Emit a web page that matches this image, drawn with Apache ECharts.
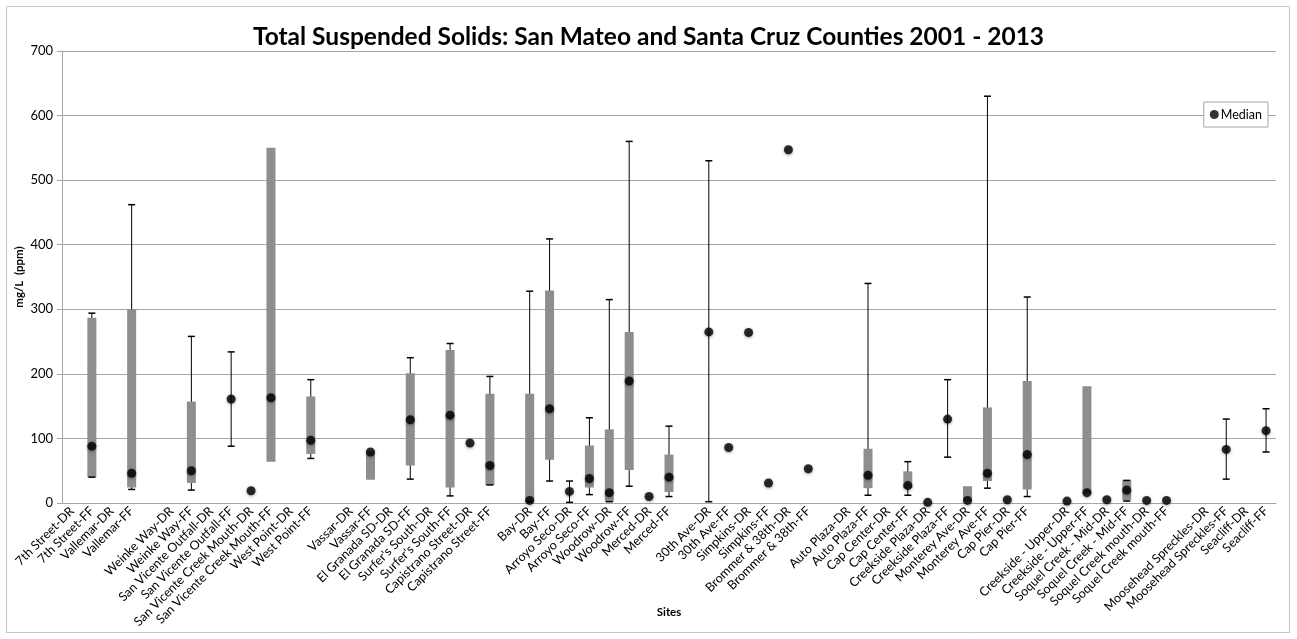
<!DOCTYPE html>
<html>
<head>
<meta charset="utf-8">
<script src="https://cdn.jsdelivr.net/npm/echarts@6/dist/echarts.min.js"></script>
<style>
  html, body { margin: 0; padding: 0; background: #fff; }
  #chart { width: 1297px; height: 639px; }
</style>
</head>
<body>
<div id="chart"></div>
<script>
// sites (blank entries are the gaps between groups)
const sites = [
  '7th Street-DR', '7th Street-FF', 'Vallemar-DR', 'Vallemar-FF', '',
  'Weinke Way-DR', 'Weinke Way-FF', 'San Vicente Outfall-DR', 'San Vicente Outfall-FF',
  'San Vicente Creek Mouth-DR', 'San Vicente Creek Mouth-FF', 'West Point-DR', 'West Point-FF', '',
  'Vassar-DR', 'Vassar-FF', 'El Granada SD-DR', 'El Granada SD-FF', "Surfer's South-DR",
  "Surfer's South-FF", 'Capistrano Street-DR', 'Capistrano Street-FF', '',
  'Bay-DR', 'Bay-FF', 'Arroyo Seco-DR', 'Arroyo Seco-FF', 'Woodrow-DR', 'Woodrow-FF',
  'Merced-DR', 'Merced-FF', '',
  '30th Ave-DR', '30th Ave-FF', 'Simpkins-DR', 'Simpkins-FF', 'Brommer & 38th-DR', 'Brommer & 38th-FF', '',
  'Auto Plaza-DR', 'Auto Plaza-FF', 'Cap Center-DR', 'Cap Center-FF', 'Creekside Plaza-DR',
  'Creekside Plaza-FF', 'Monterey Ave-DR', 'Monterey Ave-FF', 'Cap Pier-DR', 'Cap Pier-FF', '',
  'Creekside - Upper-DR', 'Creekside - Upper-FF', 'Soquel Creek - Mid-DR', 'Soquel Creek - Mid-FF',
  'Soquel Creek mouth-DR', 'Soquel Creek mouth-FF', '',
  'Moosehead Spreckles-DR', 'Moosehead Spreckles-FF', 'Seacliff-DR', 'Seacliff-FF'
];

// median values
const median = [
  null, 88, null, 46, null,
  null, 50, null, 161, 19, 163, null, 97, null,
  null, 79, null, 129, null, 136, 93, 58, null,
  4, 146, 18, 38, 16, 189, 10, 40, null,
  265, 86, 264, 31, 547, 53, null,
  null, 43, null, 27, 1, 130, 4, 46, 5, 75, null,
  3, 16, 5, 20, 4, 4, null,
  null, 83, null, 112
];

// grey box: lower and upper quartile
const boxLow = [
  null, 40, null, 24, null,
  null, 31, null, null, null, 64, null, 76, null,
  null, 36, null, 58, null, 24, null, 28, null,
  2, 67, null, 24, 2, 51, null, 17, null,
  null, null, null, null, null, null, null,
  null, 23, null, 23, null, null, 2, 34, null, 21, null,
  null, 15, null, 4, null, null, null,
  null, null, null, null
];
const boxHigh = [
  null, 287, null, 300, null,
  null, 157, null, null, null, 550, null, 165, null,
  null, 80, null, 201, null, 237, null, 169, null,
  169, 329, null, 89, 114, 265, null, 75, null,
  null, null, null, null, null, null, null,
  null, 84, null, 49, null, null, 26, 148, null, 189, null,
  null, 181, null, 35, null, null, null,
  null, null, null, null
];

// whiskers: min and max
const whiskLow = [
  null, 40, null, 21, null,
  null, 20, null, 88, null, null, null, 69, null,
  null, null, null, 37, null, 11, null, 28, null,
  2, 34, 1, 13, 2, 26, null, 10, null,
  2, null, null, null, null, null, null,
  null, 12, null, 12, null, 71, null, 23, null, 10, null,
  null, null, null, 3, null, null, null,
  null, 37, null, 79
];
const whiskHigh = [
  null, 294, null, 462, null,
  null, 258, null, 234, null, null, null, 191, null,
  null, null, null, 225, null, 247, null, 196, null,
  328, 409, 34, 132, 315, 560, null, 119, null,
  530, null, null, null, null, null, null,
  null, 340, null, 64, null, 191, null, 630, null, 319, null,
  null, null, null, 35, null, null, null,
  null, 130, null, 146
];

const font = 'Lato, "Open Sans", sans-serif';
const chart = echarts.init(document.getElementById('chart'));

const renderBox = (params, api) => {
  const i = api.value(0);
  const children = [];
  const capW = 7;
  if (whiskLow[i] != null && whiskHigh[i] != null) {
    const lo = api.coord([i, whiskLow[i]]);
    const hi = api.coord([i, whiskHigh[i]]);
    children.push({
      type: 'line', z2: 1,
      shape: { x1: lo[0], y1: lo[1], x2: hi[0], y2: hi[1] },
      style: { stroke: '#000', lineWidth: 1 }
    });
  }
  if (boxLow[i] != null && boxHigh[i] != null) {
    const lo = api.coord([i, boxLow[i]]);
    const hi = api.coord([i, boxHigh[i]]);
    children.push({
      type: 'rect', z2: 2,
      shape: { x: lo[0] - 4.5, y: hi[1], width: 9, height: lo[1] - hi[1] },
      style: { fill: '#8e8e8e' }
    });
  }
  if (whiskLow[i] != null && whiskHigh[i] != null) {
    [whiskLow[i], whiskHigh[i]].forEach(v => {
      const p = api.coord([i, v]);
      children.push({
        type: 'line', z2: 3,
        shape: { x1: p[0] - capW / 2, y1: p[1], x2: p[0] + capW / 2, y2: p[1] },
        style: { stroke: '#000', lineWidth: 1.5 }
      });
    });
  }
  return { type: 'group', children };
};

chart.setOption({
  animation: false,
  backgroundColor: '#fff',
  textStyle: { fontFamily: font },
  graphic: [{
    type: 'rect',
    shape: { x: 6.5, y: 6.5, width: 1283, height: 626 },
    style: { fill: 'none', stroke: '#c4c4c4', lineWidth: 1 },
    silent: true
  }],
  title: {
    text: 'Total Suspended Solids: San Mateo and Santa Cruz Counties 2001 - 2013',
    left: 'center',
    top: 20,
    textStyle: { fontFamily: font, fontSize: 24.5, fontWeight: 'bold', color: '#000' }
  },
  legend: {
    data: ['Median'],
    right: 29,
    top: 102,
    icon: 'circle',
    itemWidth: 9,
    itemHeight: 9,
    itemGap: 4,
    padding: [6, 6, 6, 6],
    borderColor: '#a6a6a6',
    borderWidth: 1,
    backgroundColor: '#fff',
    textStyle: { fontFamily: font, fontSize: 12.5, color: '#000', padding: [0, 0, 0, -3] }
  },
  grid: { left: 62, right: 21, top: 51, bottom: 136, containLabel: false, outerBoundsMode: 'none' },
  xAxis: {
    type: 'category',
    data: sites,
    name: 'Sites',
    nameLocation: 'middle',
    nameGap: 103,
    nameMoveOverlap: false,
    nameTextStyle: { fontFamily: font, fontSize: 11.5, fontWeight: 'bold', color: '#000' },
    axisLine: { lineStyle: { color: '#a6a6a6' } },
    axisTick: { interval: 0, length: 5, lineStyle: { color: '#a6a6a6' } },
    axisLabel: { interval: 0, rotate: 45, fontSize: 12.5, color: '#000', margin: 6, fontFamily: font },
    splitLine: { show: false }
  },
  yAxis: {
    type: 'value',
    min: 0,
    max: 700,
    interval: 100,
    name: 'mg/L  (ppm)',
    nameLocation: 'middle',
    nameGap: 37,
    nameMoveOverlap: false,
    nameTextStyle: { fontFamily: font, fontSize: 11.5, fontWeight: 'bold', color: '#000' },
    axisLine: { show: true, lineStyle: { color: '#a6a6a6' } },
    axisTick: { show: true, length: 5, lineStyle: { color: '#a6a6a6' } },
    axisLabel: { fontSize: 13, color: '#000', margin: 9, fontFamily: font },
    splitLine: { lineStyle: { color: '#a6a6a6' } }
  },
  series: [
    {
      name: 'Range',
      type: 'custom',
      renderItem: renderBox,
      data: sites.map((s, i) => [i, 0]),
      encode: { x: 0, y: 1 },
      z: 2
    },
    {
      name: 'Median',
      type: 'scatter',
      data: median,
      symbol: 'circle',
      symbolSize: 9,
      itemStyle: {
        color: '#000',
        shadowBlur: 3,
        shadowColor: 'rgba(0,0,0,0.45)',
        shadowOffsetY: 1
      },
      z: 5
    }
  ]
});
</script>
</body>
</html>
